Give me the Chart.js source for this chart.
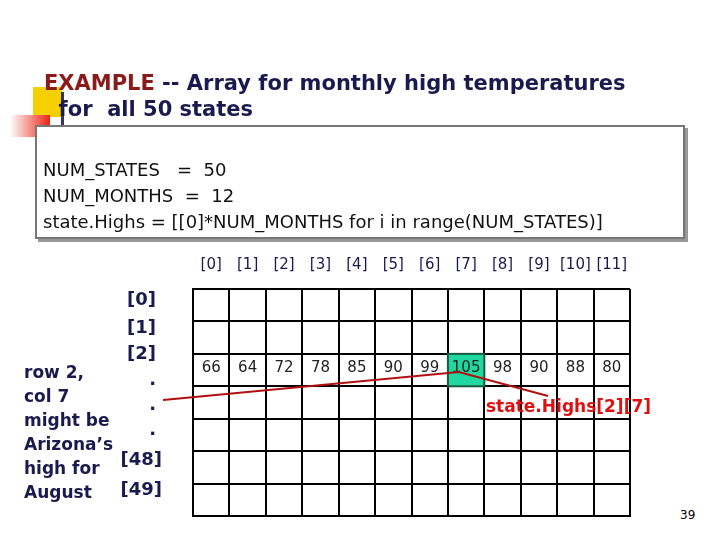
<!DOCTYPE html>
<html><head><meta charset="utf-8">
<script src="https://cdn.jsdelivr.net/npm/chart.js@4"></script>
<style>
body{margin:0;width:720px;height:540px;background:#fff;position:relative;overflow:hidden;font-family:"DejaVu Sans",sans-serif}
.abs{position:absolute}
#title{left:44px;top:70px;font:bold 21px "DejaVu Sans";color:#1a1a4e;line-height:26px;z-index:3}
#code{left:35px;top:125px;width:650px;height:114px;border:2px solid #777;box-shadow:3px 3px 0 #999;background:#fff;font:18px "DejaVu Sans";color:#111;line-height:26px;padding:30px 0 0 6px;box-sizing:border-box;z-index:3}
#side{left:24px;top:360px;font:bold 17px "DejaVu Sans";color:#1a1a4e;line-height:24px;z-index:3}
.rl{font:bold 18px "DejaVu Sans";color:#1a1a4e;z-index:3;text-align:right;width:60px}
#pg{left:680px;top:508px;font:12px "DejaVu Sans"}
#lbl{left:486px;top:396px;font:bold 17px "DejaVu Sans";color:#d11;z-index:3}
</style></head><body>
<div class="abs" style="left:33px;top:87px;width:29px;height:30px;background:#f5d000"></div>
<div class="abs" style="left:10px;top:115px;width:40px;height:22px;background:linear-gradient(90deg,#fff,#e21)"></div>
<div class="abs" style="left:61px;top:92px;width:3px;height:45px;background:#336"></div>
<div class="abs" id="title"><span style="color:#8b1a1a">EXAMPLE</span> -- Array for monthly high temperatures<br>&nbsp;&nbsp;for&nbsp; all 50 states</div>
<div class="abs" id="code">NUM_STATES &nbsp;&nbsp;= &nbsp;50<br>NUM_MONTHS &nbsp;= &nbsp;12<br>state.Highs = [[0]*NUM_MONTHS for i in range(NUM_STATES)]</div>
<div class="abs" id="side">row 2,<br>col 7<br>might be<br>Arizona’s<br>high for<br>August</div>
<div class="abs rl" style="left:96px;top:288px">[0]</div>
<div class="abs rl" style="left:96px;top:316px">[1]</div>
<div class="abs rl" style="left:96px;top:342px">[2]</div>
<div class="abs rl" style="left:96px;top:368px">.</div>
<div class="abs rl" style="left:96px;top:393px">.</div>
<div class="abs rl" style="left:96px;top:418px">.</div>
<div class="abs rl" style="left:102px;top:448px">[48]</div>
<div class="abs rl" style="left:102px;top:478px">[49]</div>
<div class="abs" id="lbl">state.Highs[2][7]</div>
<div class="abs" id="pg">39</div>
<canvas id="c" width="720" height="540" style="position:absolute;left:0;top:0"></canvas>
<script>
var colLabels = ['[0]','[1]','[2]','[3]','[4]','[5]','[6]','[7]','[8]','[9]','[10]','[11]'];
var rowCount = 7;
var highlightRow = 2;
var highlightCol = 7;
var row2Values = [66, 64, 72, 78, 85, 90, 99, 105, 98, 90, 88, 80];

var gridPlugin = {
  id: 'gridText',
  beforeDatasetsDraw: function (chart) {
    var ctx = chart.ctx, x = chart.scales.x, y = chart.scales.y;
    ctx.save();
    ctx.fillStyle = '#1fd8a0';
    ctx.strokeStyle = '#1a5a40';
    ctx.lineWidth = 2;
    var x0 = x.getPixelForValue(highlightCol), x1 = x.getPixelForValue(highlightCol + 1);
    var y0 = y.getPixelForValue(highlightRow), y1 = y.getPixelForValue(highlightRow + 1);
    ctx.fillRect(x0, y0, x1 - x0, y1 - y0);
    ctx.strokeRect(x0, y0, x1 - x0, y1 - y0);
    ctx.restore();
  },
  afterDraw: function (chart) {
    var ctx = chart.ctx, x = chart.scales.x, y = chart.scales.y;
    ctx.save();
    ctx.font = '15px "DejaVu Sans"';
    ctx.fillStyle = '#1a1a4e';
    ctx.textAlign = 'center';
    ctx.textBaseline = 'middle';
    for (var i = 0; i < colLabels.length; i++) {
      ctx.fillText(colLabels[i], x.getPixelForValue(i + 0.5), 265);
      ctx.fillStyle = '#222';
      ctx.fillText(String(row2Values[i]), x.getPixelForValue(i + 0.5), y.getPixelForValue(highlightRow + 0.5) - 2);
      ctx.fillStyle = '#1a1a4e';
    }
    ctx.strokeStyle = '#b01010';
    ctx.lineWidth = 2;
    ctx.beginPath();
    ctx.moveTo(163, 400);
    ctx.lineTo(x.getPixelForValue(highlightCol + 0.3), y.getPixelForValue(highlightRow + 0.5) + 2);
    ctx.lineTo(548, 396);
    ctx.stroke();
    ctx.restore();
  }
};

new Chart(document.getElementById('c').getContext('2d'), {
  type: 'scatter',
  data: { datasets: [{ data: [] }] },
  options: {
    responsive: false,
    animation: false,
    layout: { padding: { left: 193, right: 90, top: 289, bottom: 24 } },
    plugins: { legend: { display: false }, tooltip: { enabled: false } },
    scales: {
      x: { type: 'linear', min: 0, max: colLabels.length, ticks: { display: false, stepSize: 1 },
           grid: { color: '#000', lineWidth: 2, drawTicks: false }, border: { color: '#000', width: 2 } },
      y: { type: 'linear', reverse: true, min: 0, max: rowCount, ticks: { display: false, stepSize: 1 },
           grid: { color: '#000', lineWidth: 2, drawTicks: false }, border: { color: '#000', width: 2 } }
    }
  },
  plugins: [gridPlugin]
});
</script>
</body></html>
